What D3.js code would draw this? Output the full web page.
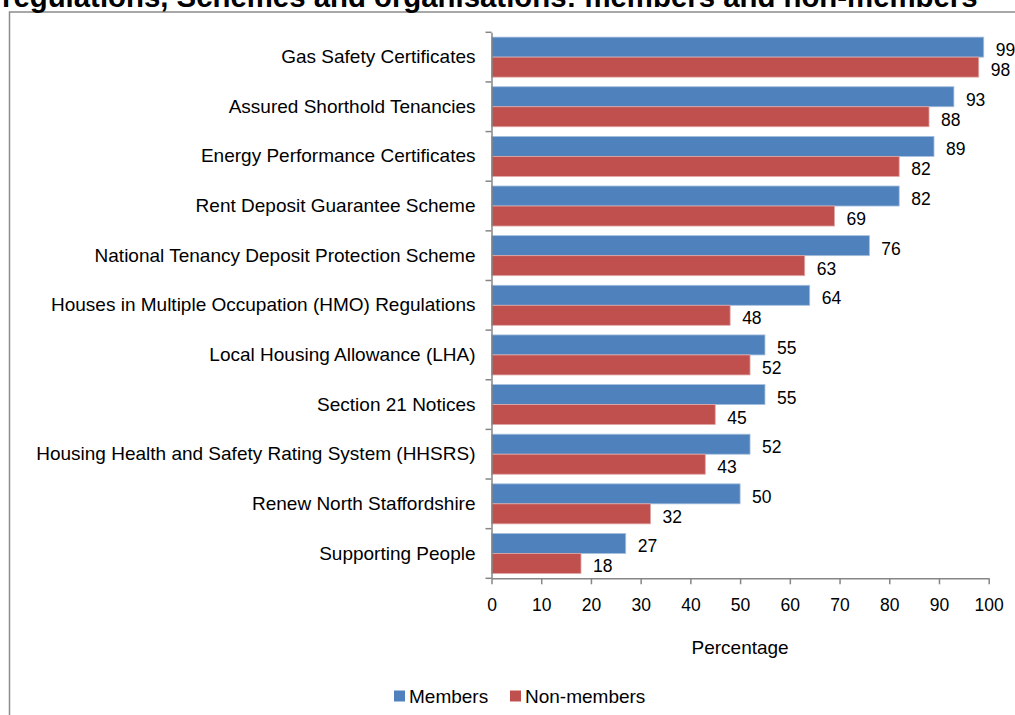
<!DOCTYPE html>
<html>
<head>
<meta charset="utf-8">
<script src="https://cdn.jsdelivr.net/npm/d3@7"></script>
<style>
  body { margin: 0; background: #fff; }
  svg { display: block; font-family: "Liberation Sans", Arial, sans-serif; }
</style>
</head>
<body>
<div id="chart"></div>
<script>
var width = 1015;
var height = 715;

var titleText = "regulations, Schemes and organisations: members and non-members";

var categories = [
  "Gas Safety Certificates",
  "Assured Shorthold Tenancies",
  "Energy Performance Certificates",
  "Rent Deposit Guarantee Scheme",
  "National Tenancy Deposit Protection Scheme",
  "Houses in Multiple Occupation (HMO) Regulations",
  "Local Housing Allowance (LHA)",
  "Section 21 Notices",
  "Housing Health and Safety Rating System (HHSRS)",
  "Renew North Staffordshire",
  "Supporting People"
];
var members    = [99, 93, 89, 82, 76, 64, 55, 55, 52, 50, 27];
var nonMembers = [98, 88, 82, 69, 63, 48, 52, 45, 43, 32, 18];
var seriesNames = ["Members", "Non-members"];
var xTicks = [0, 10, 20, 30, 40, 50, 60, 70, 80, 90, 100];

var colors = ["#4F81BD", "#C0504D"];
var strokes = ["#A7C0DE", "#E0A9A7"];

var plot = {left: 491.5, right: 988.7, top: 32.3, bottom: 578.3};
var labelSize = 19;
var numSize = 17.5;

var svg = d3.select("#chart").append("svg")
  .attr("width", width)
  .attr("height", height);

// outer chart border (runs off the right and bottom edges)
svg.append("rect")
  .attr("x", 9.5).attr("y", 12)
  .attr("width", 1100).attr("height", 800)
  .attr("fill", "none")
  .attr("stroke", "#8c8c8c")
  .attr("stroke-width", 1.5);

// title, clipped at the top of the picture as in the original
var title = svg.append("text")
  .attr("x", 2).attr("y", 6.5)
  .attr("font-weight", "bold")
  .attr("font-size", 24)
  .attr("fill", "#000")
  .text(titleText);
var tw = title.node().getComputedTextLength();
title.attr("font-size", 24 * 976 / tw);

var x = d3.scaleLinear().domain([0, 100]).range([plot.left, plot.right]);
var y = d3.scaleBand().domain(categories).range([plot.top, plot.bottom]);
var sub = d3.scaleBand().domain(seriesNames)
  .range([0, y.bandwidth()]).paddingOuter(0.24);

var rows = categories.map(function(c, i) {
  return {cat: c, vals: [members[i], nonMembers[i]]};
});

var groups = svg.selectAll(".row")
  .data(rows)
  .enter().append("g")
  .attr("class", "row")
  .attr("transform", function(d) { return "translate(0," + y(d.cat) + ")"; });

groups.selectAll("rect")
  .data(function(d) { return d.vals.map(function(v, j) { return {v: v, s: seriesNames[j], j: j}; }); })
  .enter().append("rect")
  .attr("x", x(0))
  .attr("y", function(d) { return sub(d.s); })
  .attr("width", function(d) { return x(d.v) - x(0); })
  .attr("height", sub.bandwidth())
  .attr("fill", function(d) { return colors[d.j]; })
  .attr("stroke", function(d) { return strokes[d.j]; })
  .attr("stroke-width", 0.8);

groups.selectAll(".val")
  .data(function(d) { return d.vals.map(function(v, j) { return {v: v, s: seriesNames[j]}; }); })
  .enter().append("text")
  .attr("class", "val")
  .attr("x", function(d) { return x(d.v) + 12; })
  .attr("y", function(d) { return sub(d.s) + sub.bandwidth() / 2 + 3; })
  .attr("dominant-baseline", "central")
  .attr("font-size", numSize)
  .attr("fill", "#000")
  .text(function(d) { return d.v; });

// y axis
var yAxis = d3.axisLeft(y).tickSize(0).tickPadding(16);
var yg = svg.append("g")
  .attr("transform", "translate(" + plot.left + ",0)")
  .call(yAxis);
yg.select(".domain").attr("stroke", "#868686").attr("stroke-width", 1.5);
yg.selectAll(".tick text")
  .attr("font-size", labelSize)
  .attr("font-family", "Liberation Sans, Arial, sans-serif")
  .attr("fill", "#000");
// ticks at band boundaries
var bounds = categories.map(function(c) { return y(c); }).concat([plot.bottom]);
yg.selectAll(".bound")
  .data(bounds)
  .enter().append("line")
  .attr("class", "bound")
  .attr("x1", -6).attr("x2", 0)
  .attr("y1", function(d) { return d; })
  .attr("y2", function(d) { return d; })
  .attr("stroke", "#868686").attr("stroke-width", 1.5);

// x axis
var xAxis = d3.axisBottom(x).tickValues(xTicks).tickSize(6).tickPadding(14).tickSizeOuter(0);
var xg = svg.append("g")
  .attr("transform", "translate(0," + plot.bottom + ")")
  .call(xAxis);
xg.select(".domain").attr("stroke", "#868686").attr("stroke-width", 1.5);
xg.selectAll(".tick line").attr("stroke", "#868686").attr("stroke-width", 1.5);
xg.selectAll(".tick text")
  .attr("font-size", numSize)
  .attr("font-family", "Liberation Sans, Arial, sans-serif")
  .attr("fill", "#000");

svg.append("text")
  .attr("x", (plot.left + plot.right) / 2)
  .attr("y", 647)
  .attr("dominant-baseline", "central")
  .attr("text-anchor", "middle")
  .attr("font-size", labelSize)
  .text("Percentage");

// legend
var legendX = [394, 510];
var legend = svg.selectAll(".legend")
  .data(seriesNames)
  .enter().append("g")
  .attr("class", "legend")
  .attr("transform", function(d, i) { return "translate(" + legendX[i] + ",690.5)"; });
legend.append("rect")
  .attr("width", 11).attr("height", 11)
  .attr("fill", function(d, i) { return colors[i]; });
legend.append("text")
  .attr("x", 15).attr("y", 12.5)
  .attr("font-size", labelSize)
  .text(function(d) { return d; });
</script>
</body>
</html>
